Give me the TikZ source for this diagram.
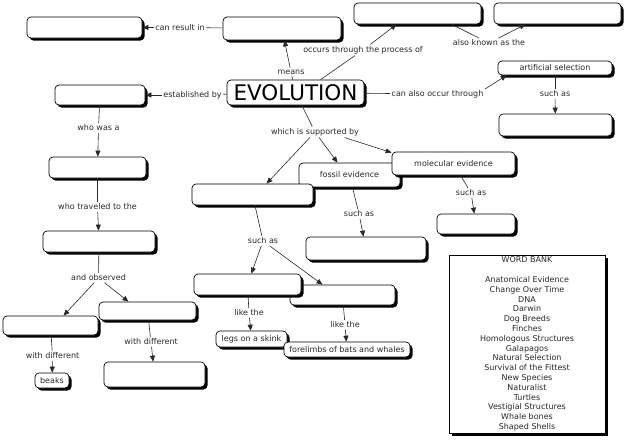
\documentclass[tikz,border=0pt]{standalone}
\usepackage{fontspec}
\setmainfont{DejaVu Sans}
\usetikzlibrary{arrows.meta,shadows}
\definecolor{ink}{RGB}{40,40,40}
\begin{document}
\begin{tikzpicture}[x=1pt,y=-1pt,
  box/.style={draw=black, line width=0.7pt, rounded corners=4pt, fill=white, inner sep=1pt,
    font=\fontsize{8}{9.6}\selectfont, text=ink,
    drop shadow={shadow xshift=2.5pt, shadow yshift=-2.5pt, fill=black, opacity=1}},
  bankbox/.style={draw=black, line width=0.7pt, fill=white, inner sep=1pt, align=center,
    font=\fontsize{8}{9.8}\selectfont, text=ink,
    drop shadow={shadow xshift=2.5pt, shadow yshift=-2.5pt, fill=black, opacity=1}},
  lbl/.style={inner sep=1.5pt, font=\fontsize{8}{9.6}\selectfont, text=ink},
  link/.style={draw=ink, line width=0.6pt},
  arr/.style={link, -{Triangle[length=6pt,width=5pt]}}]
\useasboundingbox (0,0) rectangle (628,442);

% boxes
\node[box, minimum width=115pt, minimum height=21pt] (b1) at (84.5,27.5) {};
\node[box, minimum width=118pt, minimum height=23pt] (b2) at (282,28.5) {};
\node[box, minimum width=127pt, minimum height=21pt] (b3) at (417.5,13.5) {};
\node[box, minimum width=127pt, minimum height=21pt] (b4) at (557.5,13.5) {};
\node[box, minimum width=114pt, minimum height=14pt] (b5) at (555,68) {artificial selection};
\node[box, minimum width=113pt, minimum height=22pt] (b6) at (555.5,125) {};
\node[box, font=\fontsize{21.5}{24}\selectfont, text=black, inner sep=0pt,
      minimum width=137pt, minimum height=25pt] (EVO) at (295.5,92.5) {EVOLUTION};
\node[box, minimum width=90pt, minimum height=20pt] (b8) at (100,95) {};
\node[box, minimum width=97pt, minimum height=21pt] (b9) at (97.5,167.5) {};
\node[box, minimum width=112pt, minimum height=21pt] (b10) at (99,241.5) {};
\node[box, minimum width=95pt, minimum height=19pt] (b11) at (50.5,325.5) {};
\node[box, minimum width=97pt, minimum height=18pt] (b12) at (147.5,311) {};
\node[box, minimum width=34pt, minimum height=15pt] (b13) at (52,380.5) {beaks};
\node[box, minimum width=101pt, minimum height=25pt] (b14) at (154.5,374.5) {};
\node[box, minimum width=101pt, minimum height=24pt] (b16) at (349.5,175) {fossil evidence};
\node[box, minimum width=123pt, minimum height=23pt] (b17) at (453.5,163.5) {molecular evidence};
\node[box, minimum width=121pt, minimum height=21pt] (b15) at (252.5,194.5) {};
\node[box, minimum width=78pt, minimum height=20pt] (b18) at (476,224) {};
\node[box, minimum width=120pt, minimum height=23pt] (b19) at (366,248.5) {};
\node[box, minimum width=105pt, minimum height=20pt] (b21) at (342.5,295) {};
\node[box, minimum width=107pt, minimum height=21pt] (b20) at (247.5,284.5) {};
\node[box, minimum width=71pt, minimum height=16pt] (b22) at (251.5,339) {legs on a skink};
\node[box, minimum width=126pt, minimum height=15pt] (b23) at (347,349.5) {forelimbs of bats and whales};

\node[bankbox, minimum width=156pt, minimum height=178pt] (wb) at (527,344) {WORD BANK\\[9.8pt]
Anatomical Evidence\\ Change Over Time\\ DNA\\ Darwin\\ Dog Breeds\\ Finches\\
Homologous Structures\\ Galapagos\\ Natural Selection\\ Survival of the Fittest\\
New Species\\ Naturalist\\ Turtles\\ Vestigial Structures\\ Whale bones\\ Shaped Shells};

% labels
\node[lbl] (lcr) at (180,27.5) {can result in};
\node[lbl] (lmeans) at (291,72) {means};
\node[lbl] (locc) at (363,50) {occurs through the process of};
\node[lbl] (laka) at (489,43) {also known as the};
\node[lbl] (lcao) at (437.5,94) {can also occur through};
\node[lbl] (lsa1) at (555,94) {such as};
\node[lbl] (lsup) at (315,132) {which is supported by};
\node[lbl] (lsa2) at (471,193) {such as};
\node[lbl] (lsa3) at (359,214) {such as};
\node[lbl] (lsa4) at (263,241) {such as};
\node[lbl] (llike1) at (249,313) {like the};
\node[lbl] (llike2) at (345,325) {like the};
\node[lbl] (lest) at (192.5,95) {established by};
\node[lbl] (lwas) at (98.5,128) {who was a};
\node[lbl] (ltrav) at (97.5,207) {who traveled to the};
\node[lbl] (lobs) at (98.5,278) {and observed};
\node[lbl] (lwd1) at (52.5,356) {with different};
\node[lbl] (lwd2) at (151,342) {with different};

% connectors
\draw[link] (b2) -- (lcr); \draw[arr] (lcr) -- (b1);
\draw[link] (EVO) -- (lmeans); \draw[arr] (lmeans) -- (b2);
\draw[link] ([xshift=25pt]EVO.north) -- (locc); \draw[arr] (locc) -- ([xshift=-21pt]b3.south);
\draw[link] ([xshift=34pt]b3.south) -- (laka); \draw[arr] (laka) -- ([xshift=-32pt]b4.south);
\draw[link] (EVO) -- (lcao); \draw[arr] ([yshift=5pt]lcao.east) -- ([xshift=9pt]b5.south west);
\draw[link] (b5) -- (lsa1); \draw[arr] (lsa1) -- (b6);
\draw[link] (EVO) -- (lsup);
\draw[arr] (lsup) -- ([xshift=14pt]b15.north);
\draw[arr] (lsup) -- ([xshift=-12pt]b16.north);
\draw[arr] ([xshift=-16pt]lsup.south east) -- ([yshift=-1pt]b17.north west);
\draw[link] (b17) -- (lsa2); \draw[arr] (lsa2) -- (b18);
\draw[link] (b16) -- (lsa3); \draw[arr] (lsa3) -- (b19);
\draw[link] (b15) -- (lsa4); \draw[arr] (lsa4) -- (b20); \draw[arr] (lsa4) -- ([xshift=-20pt]b21.north);
\draw[link] (b20) -- (llike1); \draw[arr] (llike1) -- (b22);
\draw[link] (b21) -- (llike2); \draw[arr] (llike2) -- (b23);
\draw[link] (EVO) -- (lest); \draw[arr] (lest) -- (b8);
\draw[link] (b8) -- (lwas); \draw[arr] (lwas) -- (b9);
\draw[link] (b9) -- (ltrav); \draw[arr] (ltrav) -- (b10);
\draw[link] (b10) -- (lobs);
\draw[arr] (lobs) -- ([xshift=13pt]b11.north);
\draw[arr] (lobs) -- ([xshift=-19pt]b12.north);
\draw[link] (b11) -- (lwd1); \draw[arr] (lwd1) -- (b13);
\draw[link] (b12) -- (lwd2); \draw[arr] (lwd2) -- (b14);
\end{tikzpicture}
\end{document}
